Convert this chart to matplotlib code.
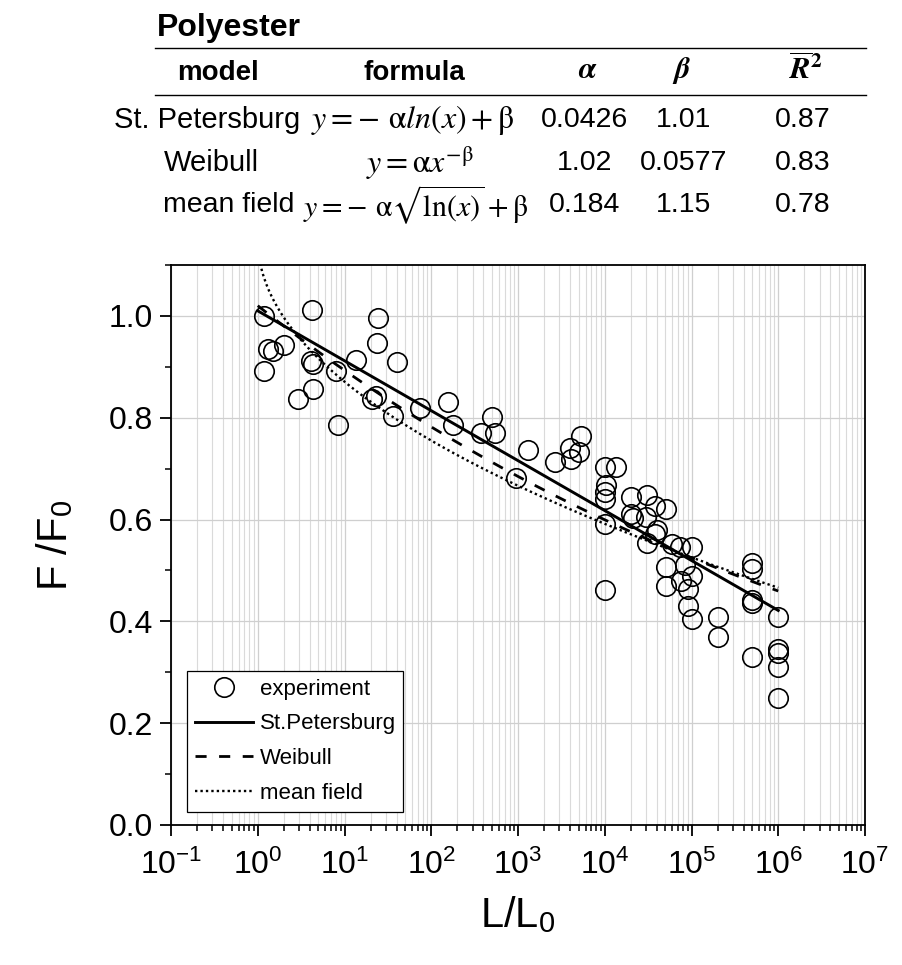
import matplotlib
matplotlib.use('Agg')
import matplotlib.pyplot as plt
from matplotlib.lines import Line2D
from matplotlib.ticker import LogLocator, MultipleLocator, FixedLocator, NullFormatter
import numpy as np

plt.rcParams['font.family'] = ['Liberation Sans', 'DejaVu Sans']
plt.rcParams['mathtext.fontset'] = 'stix'

# experiment points (L/L0, F/F0)
L_EXP = [1.17, 4.17, 24.5, 1.32, 1.5, 2.0, 1.18, 4.1, 4.3, 13.5, 23.4, 40.6, 7.9, 4.3,
         2.92, 23, 21, 36.5, 8.4, 75,
         155, 180, 500, 376, 550, 1290, 946, 2700, 4000, 4070, 5100, 5380,
         10000, 13600, 10300, 10000, 10000, 10000, 10000,
         20300, 30600, 20000, 21000, 30000, 38200, 30600, 38000, 40000, 51000,
         59600, 73000, 102000, 51500, 85000, 102000, 76000, 51000, 90000, 90000,
         100000, 200000, 200000, 500000, 500000, 500000, 500000, 500000,
         1e6, 1e6, 1e6, 1e6, 1e6]
F_EXP = [1.00, 1.012, 0.995, 0.935, 0.931, 0.943, 0.892, 0.912, 0.905, 0.913, 0.946, 0.910,
         0.892, 0.857, 0.836, 0.843, 0.836, 0.804, 0.786, 0.82,
         0.830, 0.786, 0.802, 0.770, 0.770, 0.737, 0.681, 0.714, 0.740, 0.719, 0.732, 0.765,
         0.704, 0.704, 0.667, 0.655, 0.640, 0.592, 0.462,
         0.644, 0.649, 0.611, 0.603, 0.605, 0.627, 0.553, 0.572, 0.580, 0.621,
         0.552, 0.546, 0.546, 0.506, 0.510, 0.490, 0.480, 0.470, 0.464, 0.431,
         0.405, 0.408, 0.370, 0.515, 0.503, 0.442, 0.436, 0.330,
         0.408, 0.345, 0.338, 0.310, 0.250]

# fitted parameters
MODELS = ['St. Petersburg', 'Weibull', 'mean field']
ALPHA = [0.0426, 1.02, 0.184]
BETA = [1.01, 0.0577, 1.15]
ALPHA_TXT = ['0.0426', '1.02', '0.184']
BETA_TXT = ['1.01', '0.0577', '1.15']
R2_TXT = ['0.87', '0.83', '0.78']
FORMULAS = [r'$y =\!-\,\mathrm{\alpha} ln(x) + \mathrm{\beta}$',
            r'$y = \mathrm{\alpha} x^{-\mathrm{\beta}}$',
            r'$y =\!-\,\mathrm{\alpha}\sqrt{\mathrm{ln}(x)} + \mathrm{\beta}$']

X_EXPONENTS = list(range(-1, 8))
Y_TICKS = [0.0, 0.2, 0.4, 0.6, 0.8, 1.0]

W, H = 902, 965
fig = plt.figure(figsize=(W / 100, H / 100), dpi=100)


def fx(px):
    return px / W


def fy(py):
    return 1 - py / H


# ---- table above the plot ----
fig.text(fx(157), fy(28), 'Polyester', fontsize=23, fontweight='bold', ha='left', va='center')
for yy in (48, 95):
    fig.add_artist(Line2D([fx(155), fx(866)], [fy(yy), fy(yy)], color='black', lw=1.0))

hdr_y = fy(73)
fig.text(fx(218), hdr_y, 'model', fontsize=20, fontweight='bold', ha='center', va='center')
fig.text(fx(414), hdr_y, 'formula', fontsize=20, fontweight='bold', ha='center', va='center')
fig.text(fx(588), hdr_y + 0.003, r'$\mathbfit{\alpha}$', fontsize=22, ha='center', va='center')
fig.text(fx(682), hdr_y + 0.003, r'$\mathbfit{\beta}$', fontsize=22, ha='center', va='center')
fig.text(fx(806), hdr_y + 0.003, r'$\overline{\mathbfit{R}}^{\mathbf{2}}$', fontsize=22,
         ha='center', va='center')

row_y = [120, 163, 205]
model_x = [207, 211, 229]
formula_x = [413, 420, 416]
formula_size = [23, 23, 21.5]
for i in range(3):
    yy = fy(row_y[i])
    fig.text(fx(model_x[i]), yy, MODELS[i], fontsize=20.5 if i == 2 else 21, ha='center', va='center')
    fig.text(fx(formula_x[i]), yy, FORMULAS[i], fontsize=formula_size[i], ha='center', va='center')
    fig.text(fx(585), yy, ALPHA_TXT[i], fontsize=20.5, ha='center', va='center')
    fig.text(fx(684), yy, BETA_TXT[i], fontsize=20.5, ha='center', va='center')
    fig.text(fx(803), yy, R2_TXT[i], fontsize=20.5, ha='center', va='center')

# ---- main plot ----
ax = fig.add_axes([fx(171), 1 - 825 / H, 694 / W, 560 / H])
ax.set_xscale('log')

x1 = np.logspace(0, 6, 300)
y_sp = -ALPHA[0] * np.log(x1) + BETA[0]
y_wb = ALPHA[1] * x1 ** (-BETA[1])
x3 = np.logspace(np.log10(1.02), 6, 400)
y_mf = -ALPHA[2] * np.sqrt(np.log(x3)) + BETA[2]

ax.plot(L_EXP, F_EXP, 'o', ms=14, mfc='none', mec='black', mew=1.2, label='experiment', zorder=3)
ax.plot(x1, y_sp, '-', color='black', lw=2.1, label='St.Petersburg', zorder=4)
ax.plot(x1, y_wb, color='black', lw=2.0, ls=(0, (4, 4.5)), label='Weibull', zorder=4)
ax.plot(x3, y_mf, color='black', lw=1.7, ls=(0, (1, 1.3)), label='mean field', zorder=4)

ax.set_xlim(1e-1, 1e7)
ax.set_ylim(0, 1.1)

ax.xaxis.set_major_locator(FixedLocator([10.0 ** e for e in X_EXPONENTS]))
ax.set_xticklabels([r'$\mathregular{10^{%d}}$' % e for e in X_EXPONENTS])
ax.xaxis.set_minor_locator(LogLocator(base=10, subs=np.arange(2, 10), numticks=30))
ax.xaxis.set_minor_formatter(NullFormatter())
ax.yaxis.set_major_locator(FixedLocator(Y_TICKS))
ax.set_yticklabels(['%.1f' % v for v in Y_TICKS])
ax.yaxis.set_minor_locator(MultipleLocator(0.1))

ax.grid(True, which='major', axis='both', color='#cfcfcf', lw=0.9)
ax.grid(True, which='minor', axis='x', color='#dadada', lw=0.8)
ax.set_axisbelow(True)

ax.tick_params(which='major', direction='out', length=8, width=1.3, labelsize=23,
               top=False, right=False, pad=5)
ax.tick_params(axis='x', which='major', pad=10)
ax.tick_params(which='minor', direction='out', length=4.5, width=1.1, top=False, right=False)
for sp in ax.spines.values():
    sp.set_linewidth(1.3)

ax.set_xlabel(r'L/L$_\mathregular{0}$', fontsize=30, labelpad=10)
ax.set_ylabel(r'F /F$_\mathregular{0}$', fontsize=30, labelpad=23)

leg = ax.legend(loc='lower left', bbox_to_anchor=(0.0235, 0.0238), borderaxespad=0,
                fontsize=16, frameon=True, fancybox=False, edgecolor='black',
                handlelength=2.6, handletextpad=0.3, labelspacing=0.62,
                borderpad=0.35, framealpha=1)
leg.get_frame().set_linewidth(0.9)

fig.savefig('out.png', dpi=100, facecolor='white')
